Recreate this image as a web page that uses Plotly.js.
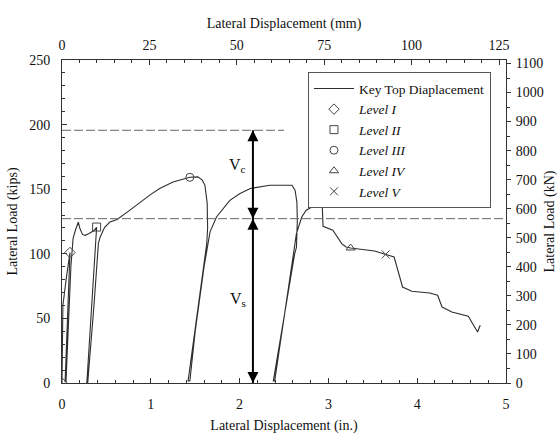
<!DOCTYPE html>
<html>
<head>
<meta charset="utf-8">
<script src="https://cdn.plot.ly/plotly-3.0.1.min.js"></script>
<style>html,body{margin:0;padding:0;background:#fff;}#chart{width:558px;height:434px;}</style>
</head>
<body>
<div id="chart"></div>
<script>
// Key top displacement curve (in., kips)
const dispIn = [0, 0.005, 0.01, 0.05, 0.09, 0.035, 0.045, 0.10, 0.125, 0.15, 0.184, 0.20, 0.23, 0.26, 0.30, 0.36, 0.39,
  0.28, 0.29, 0.36, 0.41, 0.43, 0.48, 0.54, 0.62, 0.75, 0.90, 1.00, 1.10, 1.25, 1.44, 1.53, 1.58, 1.61, 1.635, 1.64, 1.63,
  1.42, 1.44, 1.50, 1.60, 1.64, 1.667, 1.74, 1.89, 2.00, 2.12, 2.34, 2.59, 2.625, 2.645, 2.65, 2.64, 2.62,
  2.38, 2.395, 2.50, 2.60, 2.615, 2.64, 2.70, 2.75, 2.85, 2.905, 2.93, 2.94, 3.05, 3.15, 3.20, 3.25, 3.52, 3.645, 3.74,
  3.835, 3.94, 4.14, 4.23, 4.28, 4.39, 4.575, 4.68, 4.71];
const loadKips = [0, 40, 60, 82, 101, 1, 1, 90, 112, 118, 124.6, 120, 115, 114.3, 115.5, 118, 120.5,
  0.5, 0.5, 60, 108, 113, 120.5, 124.6, 126.5, 133, 141, 146, 150.5, 155.5, 159.2, 159.5, 157, 153, 139, 120, 108,
  1.5, 1.5, 40, 90, 105, 117, 128.5, 141.4, 146.5, 150.5, 153, 153, 149, 140, 126, 105, 100,
  1.5, 1.5, 50, 98, 104, 115.6, 128.5, 133.7, 137.5, 138.9, 138.5, 121.3, 118.2, 107.9, 105.3, 104.5, 102.2, 99.5, 97.5,
  74.3, 71, 69.7, 67.9, 58.8, 55, 51.6, 39.5, 44.7];

// Damage level markers
const levelNames = ['Level I', 'Level II', 'Level III', 'Level IV', 'Level V'];
const levelSymbols = ['diamond-open', 'square-open', 'circle-open', 'triangle-up-open', 'x-thin-open'];
const levelX = [[0, 0.09], [0.39], [1.44], [3.25], [3.645]];
const levelY = [[0, 101], [120.7], [159.2], [104.5], [99.5]];

// Capacity reference lines (kips) and their extents (in.)
const vcTop = 195.6;
const vsTop = 127.2;
const vcLineX = [0, 2.5];
const vsLineX = [0, 5];
const arrowX = 2.15;

const FONT = 'Liberation Serif, Times New Roman, serif';
const IN2MM = 25.4, KIP2KN = 4.44822;

const traces = [];
traces.push({x: dispIn, y: loadKips, mode: 'lines', name: 'Key Top Diaplacement',
  line: {color: '#2e2e2e', width: 1.1}, hoverinfo: 'skip'});
levelNames.forEach((n, i) => {
  traces.push({x: levelX[i], y: levelY[i], mode: 'markers', name: '<i>' + n + '</i>',
    marker: {symbol: levelSymbols[i], size: 8, color: '#444', line: {color: '#444', width: 1}}});
});
traces.push({x: vcLineX, y: [vcTop, vcTop], mode: 'lines', showlegend: false,
  line: {color: '#666', width: 1, dash: '9px,3px'}});
traces.push({x: vsLineX, y: [vsTop, vsTop], mode: 'lines', showlegend: false,
  line: {color: '#666', width: 1, dash: '9px,3px'}});
// Double-headed arrows: shaft + arrow-tip markers
traces.push({x: [arrowX, arrowX], y: [0, vcTop], mode: 'lines', showlegend: false,
  line: {color: '#000', width: 2}});
traces.push({x: [arrowX, arrowX], y: [vcTop, vsTop], mode: 'markers', showlegend: false,
  marker: {symbol: ['arrow-up', 'arrow-down'], size: 11, color: '#000', line: {width: 0}}});
traces.push({x: [arrowX, arrowX], y: [vsTop, 0], mode: 'markers', showlegend: false,
  marker: {symbol: ['arrow-up', 'arrow-down'], size: 11, color: '#000', line: {width: 0}}});
// Invisible copies in SI units so that the secondary (mm / kN) axes are drawn
traces.push({x: dispIn.map(v => v * IN2MM), y: loadKips, xaxis: 'x2', yaxis: 'y', mode: 'lines',
  opacity: 0, showlegend: false, hoverinfo: 'skip', line: {width: 1}});
traces.push({x: dispIn, y: loadKips.map(v => v * KIP2KN), xaxis: 'x', yaxis: 'y2', mode: 'lines',
  opacity: 0, showlegend: false, hoverinfo: 'skip', line: {width: 1}});

const axisCommon = {showline: true, linecolor: '#333', linewidth: 1, showgrid: false, zeroline: false,
  tickcolor: '#333', tickfont: {family: FONT, size: 14, color: '#111'}};

const layout = {
  width: 558, height: 434,
  margin: {l: 62, r: 52, t: 60, b: 51},
  paper_bgcolor: '#fff', plot_bgcolor: '#fff',
  font: {family: FONT, size: 14, color: '#111'},
  showlegend: true,
  legend: {x: 0.554, y: 0.962, xanchor: 'left', yanchor: 'top', bordercolor: '#555', borderwidth: 1,
    bgcolor: '#fff', font: {family: FONT, size: 13.5, color: '#111'}, itemwidth: 40, tracegroupgap: 0},
  xaxis: Object.assign({}, axisCommon, {range: [0, 5], dtick: 1, ticks: 'inside', ticklen: 5,
    minor: {dtick: 0.2, ticks: 'inside', ticklen: 3, tickcolor: '#333'}, ticklabelstandoff: 8,
    title: {text: 'Lateral Displacement (in.)', font: {family: FONT, size: 14}, standoff: 13}}),
  xaxis2: Object.assign({}, axisCommon, {overlaying: 'x', side: 'top', anchor: 'y', range: [0, 5 * IN2MM],
    dtick: 25, ticks: 'inside', ticklen: 5, minor: {dtick: 5, ticks: 'inside', ticklen: 3, tickcolor: '#333'},
    ticklabelstandoff: 3,
    title: {text: 'Lateral Displacement (mm)', font: {family: FONT, size: 14}, standoff: 6}}),
  yaxis: Object.assign({}, axisCommon, {range: [0, 250], dtick: 50, ticks: 'inside', ticklen: 5,
    minor: {dtick: 10, ticks: 'inside', ticklen: 3, tickcolor: '#333'}, ticklabelstandoff: 8,
    title: {text: 'Lateral Load (kips)', font: {family: FONT, size: 14}, standoff: 8}}),
  yaxis2: Object.assign({}, axisCommon, {overlaying: 'y', side: 'right', anchor: 'x', range: [0, 250 * KIP2KN],
    dtick: 100, ticks: 'outside', ticklen: 4, minor: {dtick: 50, ticks: 'outside', ticklen: 3, tickcolor: '#333'},
    ticklabelstandoff: 2,
    title: {text: 'Lateral Load (kN)', font: {family: FONT, size: 14}, standoff: 8}}),
  annotations: [
    {x: 1.98, y: 168, xref: 'x', yref: 'y', text: 'V<sub>c</sub>', showarrow: false,
      font: {family: FONT, size: 16, color: '#111'}},
    {x: 1.98, y: 65, xref: 'x', yref: 'y', text: 'V<sub>s</sub>', showarrow: false,
      font: {family: FONT, size: 16, color: '#111'}}
  ]
};

Plotly.newPlot('chart', traces, layout, {displayModeBar: false, staticPlot: true});
</script>
</body>
</html>
